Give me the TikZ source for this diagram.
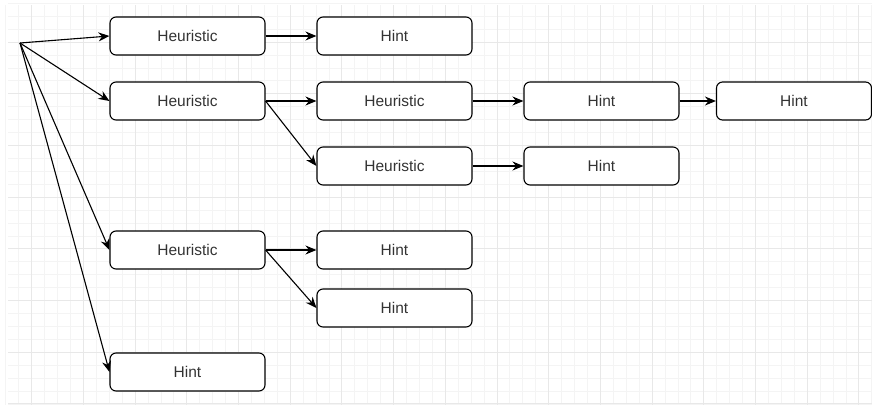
\documentclass[tikz,border=0pt]{standalone}
\usepackage{fontspec}
\setmainfont{Liberation Sans}
\usetikzlibrary{arrows.meta}
\definecolor{minorgrid}{HTML}{F4F4F4}
\definecolor{majorgrid}{HTML}{E8E8E8}
\definecolor{txt}{HTML}{333333}
\begin{document}
\begin{tikzpicture}[x=1pt,y=-1pt,
  box/.style={draw=black, line width=1.1pt, rounded corners=6pt, minimum width=155pt, minimum height=38pt, inner sep=0pt, fill=white, font=\fontsize{15.5}{18}\selectfont, text=txt},
  conn/.style={draw=black, line width=1.1pt, -{Stealth[length=11pt,width=9pt]}}]
\useasboundingbox[fill=white] (0,0) rectangle (872,407);
% grid
\foreach \i in {0,...,67} {\draw[minorgrid, line width=0.8pt] ({5.8+12.925*\i},5) -- ({5.8+12.925*\i},405);}
\foreach \i in {0,...,31} {\draw[minorgrid, line width=0.8pt] (8,{3.3+12.925*\i}) -- (872,{3.3+12.925*\i});}
\foreach \i in {0,...,16} {\draw[majorgrid, line width=1pt] ({31.7+51.7*\i},5) -- ({31.7+51.7*\i},405);}
\foreach \i in {0,...,7} {\draw[majorgrid, line width=1pt] (8,{42+51.7*\i}) -- (872,{42+51.7*\i});}
% nodes
\coordinate (root) at (20,43);
\node[box] (h1) at (187.5,36) {Heuristic};
\node[box] (n1) at (394.5,36) {Hint};
\node[box] (h2) at (187.5,101) {Heuristic};
\node[box] (h2a) at (394.5,101) {Heuristic};
\node[box] (n2a) at (601.5,101) {Hint};
\node[box] (n2b) at (794,101) {Hint};
\node[box] (h3) at (394.5,166) {Heuristic};
\node[box] (n3) at (601.5,166) {Hint};
\node[box] (h4) at (187.5,250) {Heuristic};
\node[box] (n4a) at (394.5,250) {Hint};
\node[box] (n4b) at (394.5,308) {Hint};
\node[box] (n6) at (187.5,372) {Hint};
% connectors
\draw[conn] (root) -- (h1.west);
\draw[conn] (root) -- (h2.west);
\draw[conn] (root) -- (h4.west);
\draw[conn] (root) -- (n6.west);
\draw[conn] (h1.east) -- (n1.west);
\draw[conn] (h2.east) -- (h2a.west);
\draw[conn] (h2.east) -- (h3.west);
\draw[conn] (h2a.east) -- (n2a.west);
\draw[conn] (n2a.east) -- (n2b.west);
\draw[conn] (h3.east) -- (n3.west);
\draw[conn] (h4.east) -- (n4a.west);
\draw[conn] (h4.east) -- (n4b.west);
\end{tikzpicture}
\end{document}
